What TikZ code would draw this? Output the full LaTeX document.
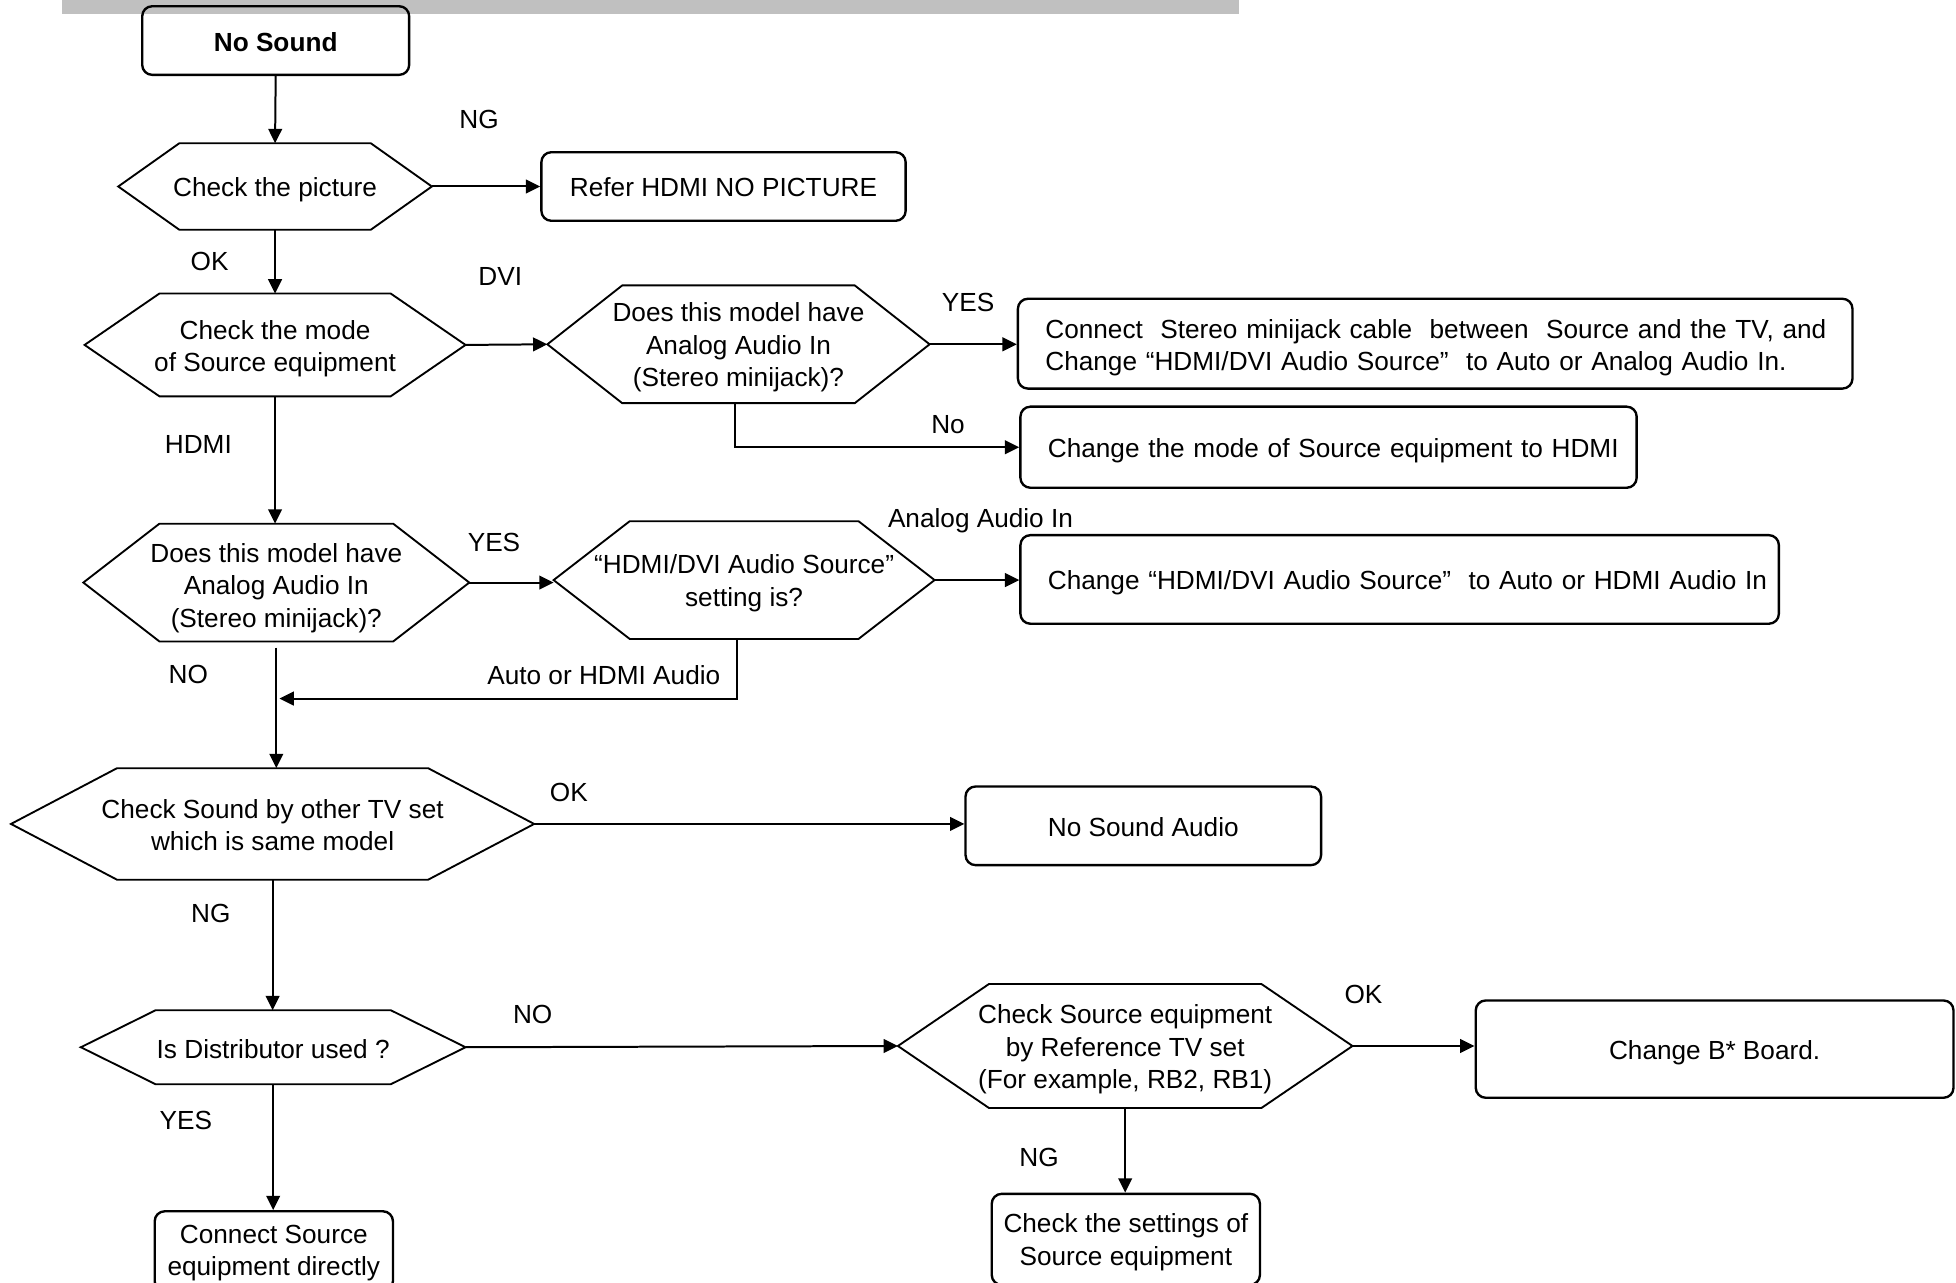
\documentclass[tikz,border=0pt]{standalone}
\usepackage{fontspec}
\setmainfont{Liberation Sans}
\usetikzlibrary{arrows.meta,calc}
\definecolor{bargrey}{RGB}{192,192,192}
\newcommand{\lowrule}[1]{\rule{0pt}{#1pt}}
\tikzset{
  base/.style={font=\fontsize{21}{26}\selectfont},
  boxnode/.style={base, draw, line width=1.9pt, rounded corners=8pt, inner sep=0pt, align=center},
  leftbox/.style={boxnode, align=left, inner xsep=22pt, inner ysep=0pt},
  hexnode/.style={base, inner sep=0pt, align=center},
  lbl/.style={base, inner sep=0pt},
  arr/.style={line width=1.6pt, -{Triangle[length=11.5pt,width=11pt]}},
  hexline/.style={line width=1.5pt, line join=miter},
}
\newcommand{\hexdraw}[2]{\draw[hexline] (#1.west) -- ([xshift=#2]#1.north west) -- ([xshift=-#2]#1.north east) -- (#1.east) -- ([xshift=-#2]#1.south east) -- ([xshift=#2]#1.south west) -- cycle;}
\begin{document}
\begin{tikzpicture}[x=1pt,y=-1pt]
\useasboundingbox (0,0) rectangle (1568,1028);
\clip (0,0) rectangle (1568,1028);
\fill[white] (0,0) rectangle (1568,1028);
\fill[bargrey] (50,0) rectangle (993,11);

% nodes
\node[boxnode, minimum width=214pt, minimum height=55pt, font=\fontsize{21}{26}\selectfont\bfseries] (ns) at (221,32.5) {\lowrule{17}No Sound};
\node[hexnode, minimum width=251pt, minimum height=69pt] (h1) at (220.5,149.5) {\lowrule{21}Check the picture};
\node[boxnode, minimum width=292pt, minimum height=55pt] (refer) at (580,149.5) {\lowrule{17}Refer HDMI NO PICTURE};
\node[hexnode, minimum width=305pt, minimum height=82pt] (h2) at (220.5,276.5) {\lowrule{21}Check the mode\\of Source equipment};
\node[hexnode, minimum width=306pt, minimum height=94pt] (h3) at (592,276) {\lowrule{20}Does this model have\\Analog Audio In\\(Stereo minijack)?};
\node[leftbox, text width=625pt, minimum height=72pt] (b1) at (1150.5,275.5) {\lowrule{22}\mbox{Connect\ \ Stereo minijack cable\ \ between\ \ Source and the TV, and}\\\mbox{Change “HDMI/DVI Audio Source”\ \ to Auto or Analog Audio In.}};
\node[leftbox, text width=450pt, minimum height=65pt] (b2) at (1065,358.5) {\lowrule{21}\mbox{Change the mode of Source equipment to HDMI}};
\node[hexnode, minimum width=309pt, minimum height=94pt] (h4) at (221.5,467) {\lowrule{24}Does this model have\\Analog Audio In\\(Stereo minijack)?};
\node[hexnode, minimum width=305pt, minimum height=94pt] (h5) at (596.5,465) {\lowrule{20}“HDMI/DVI Audio Source”\\setting is?};
\node[leftbox, text width=564pt, minimum height=71pt] (b3) at (1122,464.5) {\lowrule{21}\mbox{Change “HDMI/DVI Audio Source”\ \ to Auto or HDMI Audio In}};
\node[hexnode, minimum width=419pt, minimum height=89pt] (h6) at (218.5,660.5) {\lowrule{17}Check Sound by other TV set\\which is same model};
\node[boxnode, minimum width=285pt, minimum height=63pt] (b4) at (916.5,662) {\lowrule{18}No Sound Audio};
\node[hexnode, minimum width=308pt, minimum height=59pt] (h7) at (219,839.5) {\lowrule{18}Is Distributor used ?};
\node[hexnode, minimum width=364pt, minimum height=99pt] (h8) at (902,838.5) {\lowrule{21}Check Source equipment\\by Reference TV set\\(For example, RB2, RB1)};
\node[boxnode, minimum width=383pt, minimum height=78pt] (b5) at (1374.5,841) {\lowrule{21}Change B* Board.};
\node[boxnode, minimum width=191pt, minimum height=64pt] (b6) at (219.5,1003) {\lowrule{18}Connect Source\\equipment directly};
\node[boxnode, minimum width=215pt, minimum height=73pt] (b7) at (902.5,993.5) {\lowrule{20}Check the settings of\\Source equipment};

\hexdraw{h1}{49pt}
\hexdraw{h2}{60pt}
\hexdraw{h3}{60pt}
\hexdraw{h4}{61pt}
\hexdraw{h5}{61pt}
\hexdraw{h6}{85pt}
\hexdraw{h7}{60pt}
\hexdraw{h8}{73pt}

% connectors
\draw[arr] (ns.south) -- (h1.north);
\draw[arr] (h1.east) -- (refer.west);
\draw[arr] (h1.south) -- (h2.north);
\draw[arr] (h2.east) -- (h3.west);
\draw[arr] (h3.east) -- (h3.east -| b1.west);
\draw[arr] ([xshift=-3pt]h3.south) |- (b2.west);
\draw[arr] (h2.south) -- (h2.south |- h4.north);
\draw[arr] (h4.east) -- (h4.east -| h5.west);
\draw[arr] (h5.east) -- (h5.east -| b3.west);
\coordinate (j) at (224,560);
\draw[arr] ([xshift=-6pt]h5.south) |- (j);
\draw[arr, shorten <=5pt] (h4.south) -- (h4.south |- h6.north);
\draw[arr] (h6.east) -- (h6.east -| b4.west);
\draw[arr] (h6.south) -- (h6.south |- h7.north);
\draw[arr] (h7.east) -- (h8.west);
\draw[arr] (h8.east) -- (h8.east -| b5.west);
\draw[arr] (h7.south) -- (h7.south |- b6.north);
\draw[arr] (h8.south) -- (h8.south |- b7.north);

% labels
\node[lbl] (l1) at (384,95.5) {NG};
\node[lbl] (l2) at (168,209.5) {OK};
\node[lbl] (l3) at (401,221.5) {DVI};
\node[lbl] (l4) at (776,242.5) {YES};
\node[lbl] (l5) at (760,340.5) {No};
\node[lbl] (l6) at (159,356.5) {HDMI};
\node[lbl] (l7) at (396,434.5) {YES};
\node[lbl] (l8) at (786,417.5) {Analog Audio In};
\node[lbl] (l9) at (484,541.5) {Auto or HDMI Audio};
\node[lbl] (l10) at (151,540.5) {NO};
\node[lbl] (l11) at (456,635.5) {OK};
\node[lbl] (l12) at (169,732.5) {NG};
\node[lbl] (l13) at (427,813.5) {NO};
\node[lbl] (l14) at (1093,797.5) {OK};
\node[lbl] (l15) at (149,898.5) {YES};
\node[lbl] (l16) at (833,927.5) {NG};
\end{tikzpicture}
\end{document}
